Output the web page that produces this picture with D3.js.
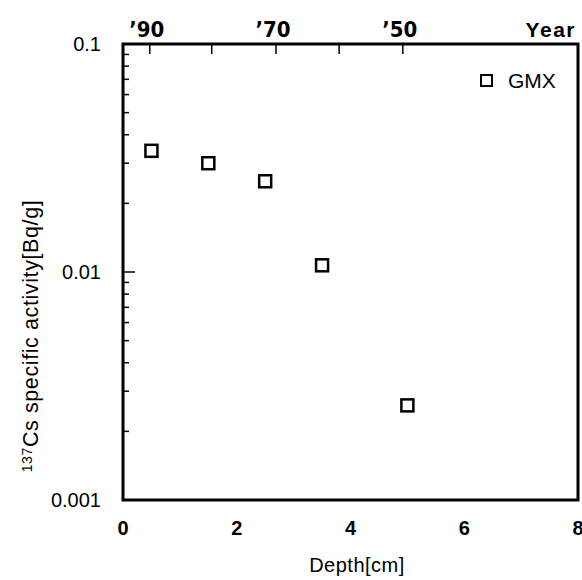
<!DOCTYPE html>
<html><head><meta charset="utf-8">
<script src="https://cdn.jsdelivr.net/npm/d3@7"></script>
<style>body{margin:0;background:#fff}svg{display:block}</style>
</head><body><svg id="c" width="582" height="580"></svg>
<script>
const depth = [0.5, 1.5, 2.5, 3.5, 5.0];
const activity = [0.034, 0.030, 0.025, 0.0107, 0.0026];
const xTicks = [0, 2, 4, 6, 8];
const yTicks = [0.1, 0.01, 0.001];
const yTickLabels = ["0.1", "0.01", "0.001"];
const yearPos = [0.47, 1.56, 2.69, 3.80, 4.92];
const yearLabels = ["’90", "", "’70", "", "’50"];
const seriesName = "GMX";

const svg = d3.select("#c");
const L = 123, R = 578, T = 44, B = 500;
const x = d3.scaleLinear().domain([0, 8]).range([L, R]);
const y = d3.scaleLog().domain([0.001, 0.1]).range([B, T]);
const font = "'Liberation Sans', Arial, sans-serif";

// minor + major ticks on left axis (inward)
const minor = [];
for (let e = -3; e < -1; e++) for (let m = 2; m <= 9; m++) minor.push(m * Math.pow(10, e));
svg.append("g").selectAll("line").data(minor).join("line")
  .attr("x1", L).attr("x2", L + 6).attr("y1", d => y(d)).attr("y2", d => y(d))
  .attr("stroke", "#000").attr("stroke-width", 1.5);
svg.append("g").selectAll("line").data(yTicks).join("line")
  .attr("x1", L).attr("x2", L + 12).attr("y1", d => y(d)).attr("y2", d => y(d))
  .attr("stroke", "#000").attr("stroke-width", 1.5);

// top year ticks (inward)
svg.append("g").selectAll("line").data(yearPos).join("line")
  .attr("x1", d => x(d)).attr("x2", d => x(d)).attr("y1", T).attr("y2", T + 10)
  .attr("stroke", "#000").attr("stroke-width", 1.5);

// frame
svg.append("rect").attr("x", L).attr("y", T).attr("width", R - L).attr("height", B - T)
  .attr("fill", "none").attr("stroke", "#000").attr("stroke-width", 3);

// y tick labels
svg.append("g").selectAll("text").data(yTicks).join("text")
  .attr("x", 101).attr("y", d => y(d) + 7).attr("text-anchor", "end")
  .attr("font-family", font).attr("font-size", 20)
  .text((d, i) => yTickLabels[i]);

// x tick labels
svg.append("g").selectAll("text").data(xTicks).join("text")
  .attr("x", d => x(d)).attr("y", 535).attr("text-anchor", "middle")
  .attr("font-family", font).attr("font-size", 20).attr("font-weight", "bold")
  .text(d => d);

// year labels
svg.append("g").selectAll("text").data(yearPos).join("text")
  .attr("x", d => x(d) - 3).attr("y", 37).attr("text-anchor", "middle")
  .attr("font-family", "'Liberation Sans Narrow', 'DejaVu Sans Condensed', Arial, sans-serif")
  .attr("font-size", 22).attr("font-weight", "bold")
  .text((d, i) => yearLabels[i]);
svg.append("text").attr("x", 576).attr("y", 37).attr("text-anchor", "end")
  .attr("font-family", font).attr("font-size", 21).attr("font-weight", "bold")
  .attr("letter-spacing", 1.5).text("Year");

// x axis title
svg.append("text").attr("x", 357).attr("y", 572).attr("text-anchor", "middle")
  .attr("font-family", font).attr("font-size", 20).attr("letter-spacing", 0.5).text("Depth[cm]");

// y axis title
const yt = svg.append("text").attr("transform", "translate(38,336) rotate(-90)")
  .attr("text-anchor", "middle").attr("font-family", font).attr("font-size", 21.5)
  .attr("letter-spacing", 0.6);
yt.append("tspan").attr("font-size", 14).attr("dy", -6).text("137");
yt.append("tspan").attr("dy", 6).text("Cs specific activity[Bq/g]");

// data markers
svg.append("g").selectAll("rect").data(depth).join("rect")
  .attr("x", d => x(d) - 6).attr("y", (d, i) => y(activity[i]) - 6)
  .attr("width", 12).attr("height", 12)
  .attr("fill", "#fff").attr("stroke", "#000").attr("stroke-width", 2.5);

// legend
svg.append("rect").attr("x", 481).attr("y", 75).attr("width", 11).attr("height", 11)
  .attr("fill", "#fff").attr("stroke", "#000").attr("stroke-width", 2);
svg.append("text").attr("x", 508).attr("y", 88).attr("font-family", font)
  .attr("font-size", 21).text(seriesName);
</script></body></html>
